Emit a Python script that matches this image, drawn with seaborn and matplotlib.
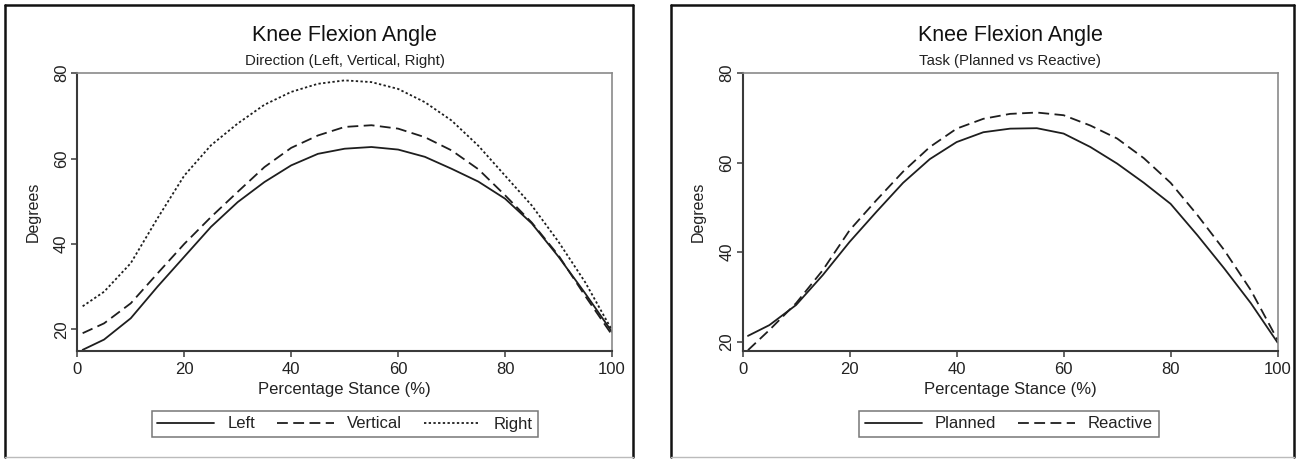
import numpy as np
import pandas as pd
import matplotlib
matplotlib.use("Agg")
import matplotlib.pyplot as plt
from matplotlib.lines import Line2D
import seaborn as sns

# ---------------- data ----------------
stance = [1, 5, 10, 15, 20, 25, 30, 35, 40, 45, 50, 55, 60, 65, 70, 75, 80, 85, 90, 95, 100]

left_dir = [15.2, 17.6, 22.6, 30.0, 37.0, 44.0, 49.8, 54.5, 58.4, 61.1, 62.3, 62.7, 62.1,
            60.4, 57.6, 54.6, 50.6, 44.8, 37.0, 28.4, 19.4]
vertical_dir = [19.1, 21.4, 26.1, 33.1, 40.0, 46.3, 52.2, 58.0, 62.5, 65.4, 67.4, 67.8, 67.0,
                65.0, 61.9, 57.5, 51.4, 45.0, 37.3, 27.8, 18.7]
right_dir = [25.4, 28.8, 35.5, 46.0, 56.0, 63.1, 68.2, 72.6, 75.6, 77.5, 78.3, 77.9, 76.3,
             73.2, 68.9, 63.0, 56.0, 49.0, 40.5, 31.0, 19.8]

planned = [21.3, 23.7, 28.2, 34.9, 42.3, 49.0, 55.5, 60.8, 64.6, 66.8, 67.6, 67.7, 66.5,
           63.5, 59.8, 55.5, 50.8, 43.8, 36.4, 28.6, 19.8]
reactive = [18.1, 22.6, 28.6, 36.0, 44.9, 51.6, 58.0, 63.5, 67.6, 69.8, 70.9, 71.2, 70.6,
            68.3, 65.4, 61.0, 55.5, 48.3, 40.5, 31.5, 20.4]

dir_labels = ["Left", "Vertical", "Right"]
task_labels = ["Planned", "Reactive"]
x_ticks = [0, 20, 40, 60, 80, 100]
y_ticks = [20, 40, 60, 80]

title_text = "Knee Flexion Angle"
subtitles = ["Direction (Left, Vertical, Right)", "Task (Planned vs Reactive)"]

# ---------------- long tables ----------------
df_dir = pd.concat([
    pd.DataFrame({"stance": stance, "deg": v, "series": lab})
    for v, lab in zip([left_dir, vertical_dir, right_dir], dir_labels)
])
df_task = pd.concat([
    pd.DataFrame({"stance": stance, "deg": v, "series": lab})
    for v, lab in zip([planned, reactive], task_labels)
])

# ---------------- style ----------------
sns.set_style("white")
plt.rcParams["font.family"] = ["Liberation Sans", "DejaVu Sans"]

W, H = 1298, 459
fig = plt.figure(figsize=(W / 100, H / 100), dpi=100)

LINE_COL = "#1e1e1e"
DASH_STYLES = {"Left": "", "Vertical": (6, 3), "Right": (1.3, 1.3),
               "Planned": "", "Reactive": (6, 3)}


def px_axes(x0, x1, y0, y1):
    return fig.add_axes([x0 / W, 1 - y1 / H, (x1 - x0) / W, (y1 - y0) / H])


def style_axes(ax, ylim):
    ax.set_xlim(0, 100)
    ax.set_ylim(*ylim)
    ax.set_xticks(x_ticks)
    ax.set_yticks(y_ticks)
    for side in ["left", "bottom"]:
        ax.spines[side].set_color("#3a3a3a")
        ax.spines[side].set_linewidth(1.5)
    for side in ["top", "right"]:
        ax.spines[side].set_color("#8a8a8a")
        ax.spines[side].set_linewidth(1.2)
    ax.tick_params(axis="both", direction="out", length=4, width=1.1,
                   color="#3a3a3a", labelsize=12, labelcolor="#222222", pad=3)
    ax.tick_params(axis="x", bottom=True, pad=4)
    ax.tick_params(axis="y", left=True, pad=2)
    for lab in ax.get_yticklabels():
        lab.set_rotation(90)
        lab.set_va("center")
    ax.set_xlabel("Percentage Stance (%)", fontsize=12, color="#222222")
    ax.set_ylabel("Degrees", fontsize=11.5, color="#222222")
    ax.xaxis.set_label_coords(0.5, -0.14)
    ax.xaxis.label.set_va("center")
    ax.yaxis.set_label_coords(-0.083, 0.5)
    ax.yaxis.label.set_va("center")


def draw_panel(ax, df, labels, ylim, subtitle, legend_center):
    sns.lineplot(data=df, x="stance", y="deg", style="series", style_order=labels,
                 dashes=[DASH_STYLES[l] for l in labels], color=LINE_COL,
                 linewidth=1.3, legend=False, ax=ax, sort=False)
    style_axes(ax, ylim)
    pos = ax.get_position()
    cx = pos.x0 + pos.width / 2
    fig.text(cx, 1 - 36 / H, title_text, ha="center", va="center",
             fontsize=15.5, color="#111111")
    fig.text(cx, 1 - 61 / H, subtitle, ha="center", va="center",
             fontsize=10.8, color="#222222")
    handles = []
    for l in labels:
        d = DASH_STYLES[l]
        if d == "":
            handles.append(Line2D([], [], color=LINE_COL, lw=1.3, ls="-"))
        else:
            handles.append(Line2D([], [], color=LINE_COL, lw=1.3, ls=(0, d)))
    leg = fig.legend(handles, labels, loc="center",
                     bbox_to_anchor=(legend_center[0] / W, 1 - legend_center[1] / H),
                     ncol=len(labels), frameon=True, fancybox=False,
                     fontsize=12, handlelength=3.4, handletextpad=0.8,
                     columnspacing=1.3, borderpad=0.35, edgecolor="#555555")
    leg.get_frame().set_linewidth(1.1)
    for t in leg.get_texts():
        t.set_color("#222222")


ax1 = px_axes(77.3, 612.0, 72.7, 351.0)
draw_panel(ax1, df_dir, dir_labels, (14.93, 80.1), subtitles[0], (345, 424))

ax2 = px_axes(742.6, 1277.6, 72.7, 351.0)
draw_panel(ax2, df_task, task_labels, (17.92, 80.1), subtitles[1], (1009, 424))

# ---------------- outer panel frames ----------------
def frame(x0, x1, y0, y1):
    fx0, fx1 = x0 / W, x1 / W
    fy0, fy1 = 1 - y1 / H, 1 - y0 / H
    kw = dict(transform=fig.transFigure, color="#111111", lw=1.8)
    fig.add_artist(Line2D([fx0, fx1], [fy1, fy1], **kw))
    fig.add_artist(Line2D([fx0, fx0], [fy0, fy1], **kw))
    fig.add_artist(Line2D([fx1, fx1], [fy0, fy1], **kw))
    fig.add_artist(Line2D([fx0, fx1], [fy0, fy0], transform=fig.transFigure,
                          color="#bbbbbb", lw=1.0))


frame(5, 633, 5, 457)
frame(671, 1294, 5, 457)

fig.savefig("out.png", dpi=100, facecolor="white")
